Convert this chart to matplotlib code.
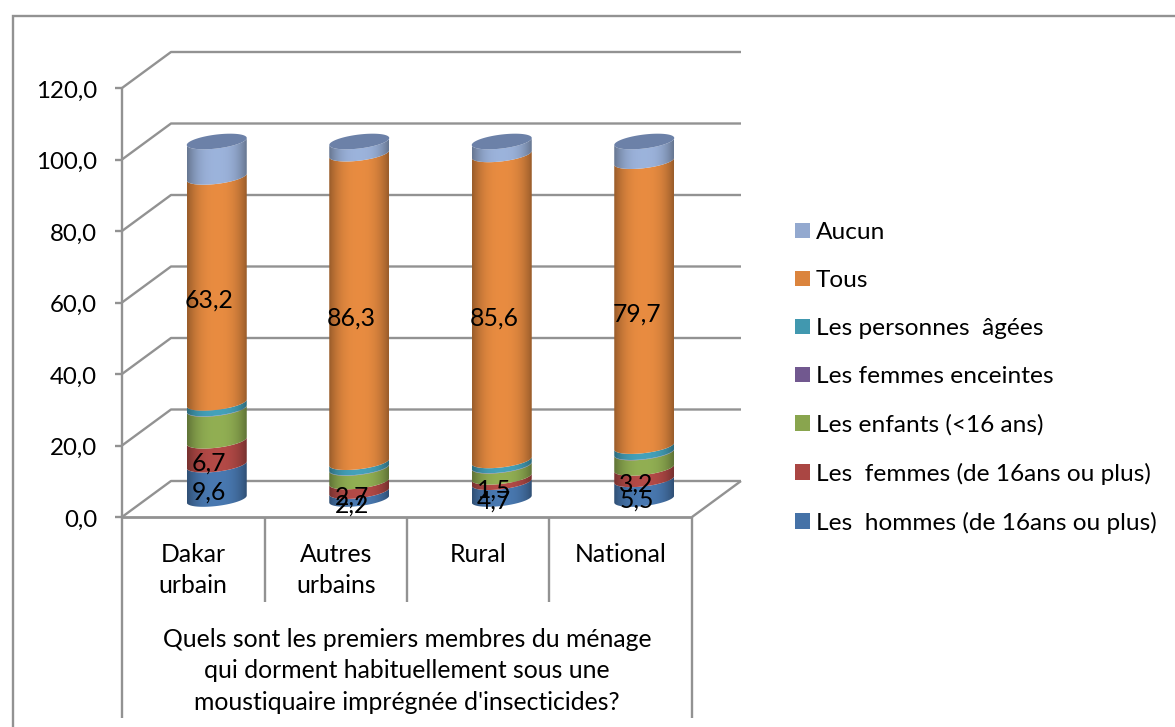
import numpy as np
import matplotlib
matplotlib.use("Agg")
import matplotlib.pyplot as plt
from matplotlib.patches import Patch, Polygon, Rectangle

plt.rcParams['font.family'] = ['Lato', 'DejaVu Sans']

categories = ['Dakar\nurbain', 'Autres\nurbains', 'Rural', 'National']
hommes = [9.6, 2.2, 4.7, 5.5]
femmes = [6.7, 2.7, 1.5, 3.2]
enfants = [8.9, 3.8, 3.1, 4.3]
enceintes = [0.1, 0.1, 0.1, 0.1]
agees = [1.6, 1.5, 1.4, 1.7]
tous = [63.2, 86.3, 85.6, 79.7]
aucun = [9.9, 3.4, 3.6, 5.5]
yticks = [0, 20, 40, 60, 80, 100, 120]
axis_title = "Quels sont les premiers membres du ménage\nqui dorment habituellement sous une\nmoustiquaire imprégnée d'insecticides?"

series = [
    ('Les  hommes (de 16ans ou plus)', hommes, '#4572A7', True),
    ('Les  femmes (de 16ans ou plus)', femmes, '#AA4643', True),
    ('Les enfants (<16 ans)', enfants, '#89A54E', False),
    ('Les femmes enceintes', enceintes, '#71588F', False),
    ('Les personnes  âgées', agees, '#4198AF', False),
    ('Tous', tous, '#DB843D', True),
    ('Aucun', aucun, '#93A9CF', False),
]

W, H = 1175, 727
fig = plt.figure(figsize=(W / 100, H / 100), dpi=100)

# front plane of the fake 3d box, in pixels
left, right, bottom, top = 122, 692, 517, 88
ax = fig.add_axes([left / W, 1 - bottom / H, (right - left) / W, (bottom - top) / H])
ax.set_axis_off()

px_x = (right - left) / 4
px_y = (bottom - top) / 120
dx = 49 / px_x   # depth shift of the back wall
dy = 36 / px_y
bar_dx = 47 / px_x   # bars sit half way in, a bit left of the wall's mid line
half = 30 / px_x   # cylinder
minor = 7 / px_y
shear = (3.5 / px_y) / half
grid = '#929292'
lw = 1.7


def line(xs, ys, color=grid, width=lw):
    ax.plot(xs, ys, color=color, lw=width, clip_on=False, solid_capstyle='butt', zorder=1)


# back wall and floor
for v in yticks:
    line([0, dx, 4 + dx], [v, v + dy, v + dy])
    line([-7 / px_x, 0], [v, v])
line([0, 4], [0, 0], width=2)
line([4, 4 + dx], [0, dy])
line([0, 0], [0, 120])

# category table under the floor
low = -(718 - bottom) / px_y
mid = -(602 - bottom) / px_y
for i in range(5):
    line([i, i], [0, low if i in (0, 4) else mid])
for i, cat in enumerate(categories):
    ax.text(i + 0.5, -(543 - bottom) / px_y, cat, ha='center', va='top', fontsize=17.8,
            linespacing=1.44, color='black', clip_on=False)
ax.text(2, -(628 - bottom) / px_y, axis_title, ha='center', va='top', fontsize=17.8,
        linespacing=1.44, color='black')

# shading across a cylinder, dark on the sides
t = np.linspace(-1, 1, 80)
shade = 1.06 - 0.36 * np.abs(t) ** 2.6


def cylinder_part(cx, v0, v1, color):
    a = np.linspace(np.pi, 0, 40)
    xs = cx + half * np.cos(a)
    front0 = v0 - minor * np.sin(a) + shear * (xs - cx)
    front1 = v1 - minor * np.sin(a) + shear * (xs - cx)
    pts = np.vstack([np.c_[xs, front0], np.c_[xs[::-1], front1[::-1]]])
    poly = Polygon(pts, closed=True, fc='none', ec='none', transform=ax.transData)
    ax.add_patch(poly)
    rgb = np.array(matplotlib.colors.to_rgb(color))
    img = np.clip(shade[None, :, None] * rgb[None, None, :], 0, 1)
    im = ax.imshow(img, extent=[cx - half, cx + half, v0 - 2 * minor - 2, v1 + 2 * minor + 2],
                   aspect='auto', interpolation='bilinear', zorder=2)
    im.set_clip_path(poly)


for i in range(len(categories)):
    cx = i + 0.5 + bar_dx / 2
    base = dy / 2
    level = 0
    for label, values, color, _ in series:
        cylinder_part(cx, base + level, base + level + values[i], color)
        level += values[i]
    a = np.linspace(0, 2 * np.pi, 80)
    xs = cx + half * np.cos(a)
    ys = base + level + minor * np.sin(a) + shear * (xs - cx)
    ax.add_patch(Polygon(np.c_[xs, ys], closed=True, fc='#6c81a8', ec='none', zorder=3))

# data labels, only for the series that carry them in the source
for i in range(len(categories)):
    cx = i + 0.5 + bar_dx / 2
    base = dy / 2
    level = 0
    for label, values, color, show in series:
        if show:
            ax.annotate(f"{values[i]:.1f}".replace('.', ','), (cx, base + level + values[i] / 2),
                        xytext=(-5.5, -7.5), textcoords='offset points', ha='center', va='center',
                        fontsize=17.8, color='black', zorder=5)
        level += values[i]

ax.set_xlim(0, 4)
ax.set_ylim(0, 120)

# tick labels
for v in yticks:
    ax.text(-25 / px_x, v - 3 / px_y, f"{v:.1f}".replace('.', ','), ha='right', va='center',
            fontsize=17.3, color='black')

handles = [Patch(fc=s[2], ec='none', label=s[0]) for s in reversed(series)]
fig.legend(handles=handles, loc='center left', bbox_to_anchor=(795 / W, 1 - 378 / H),
           frameon=False, fontsize=17.6, handlelength=0.61, handleheight=0.61,
           handletextpad=0.25, labelspacing=1.105, borderpad=0, borderaxespad=0)

# outer frame
fig.add_artist(Rectangle((13 / W, -0.01), 1.1, 1 - 15.5 / H + 0.01, transform=fig.transFigure,
                         fc='none', ec='#929292', lw=1.7))

fig.savefig('out.png', dpi=100)
